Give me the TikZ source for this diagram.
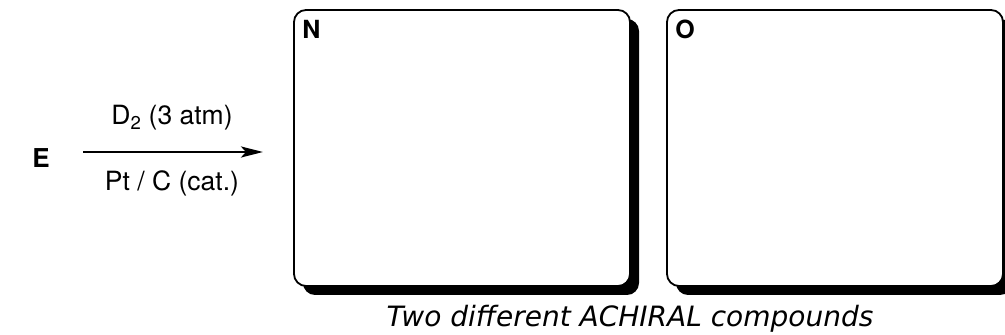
\documentclass[tikz,border=0pt]{standalone}
\usepackage{fontspec}
\setmainfont{TeX Gyre Heros}
\newfontfamily\notefont{DejaVu Sans}
\usetikzlibrary{positioning,arrows.meta,shadows}

\tikzset{
  cmpdbox/.style={draw=black, line width=1.8pt, rounded corners=12pt, fill=white,
    inner sep=0pt, minimum width=336pt, minimum height=276pt,
    drop shadow={shadow xshift=9pt, shadow yshift=-9pt, opacity=1, fill=black}},
  cmpdlabel/.style={font=\fontsize{25}{30}\selectfont\bfseries, anchor=north west, inner sep=0pt},
  rxtext/.style={font=\fontsize{26.5}{31}\selectfont, inner sep=1pt},
}

\begin{document}
\begin{tikzpicture}[x=1pt, y=1pt, >={Stealth[length=22pt, width=11pt, inset=5pt]}]

    \useasboundingbox (0,0) rectangle (1005,335);

    % =========================================================================
    % Starting material and reagents
    % =========================================================================
    \node[rxtext, font=\fontsize{26}{31}\selectfont\bfseries] (E) at (41, 177) {E};

    \coordinate (arrS) at (83, 183);
    \coordinate (arrE) at (263, 183);
    \draw[->, line width=2.6pt] (arrS) -- (arrE);

    \node[rxtext] (reagA) at (172, 217) {D\textsubscript{2} (3 atm)};
    \node[rxtext] (reagB) at (172, 152) {Pt / C (cat.)};

    % =========================================================================
    % Product boxes
    % =========================================================================
    \foreach \name/\x in {N/462, O/835} {
        \node[cmpdbox] (box\name) at (\x, 187) {};
        \node[cmpdlabel] (lab\name) at ([xshift=9pt, yshift=-11pt]box\name.north west) {\name};
    }

    \node[font=\notefont\itshape\fontsize{28}{33}\selectfont, inner sep=0pt] (note) at (630, 16) {Two different ACHIRAL compounds};

\end{tikzpicture}
\end{document}
